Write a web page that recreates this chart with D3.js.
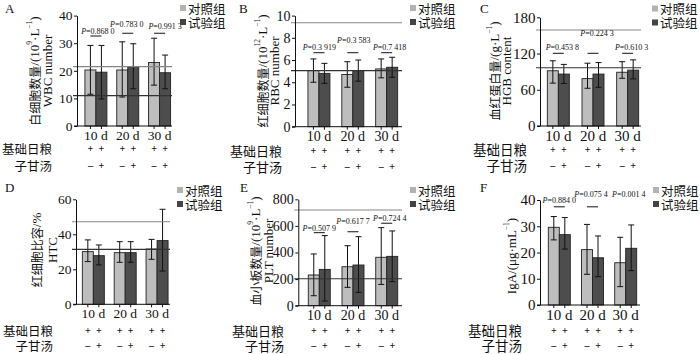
<!DOCTYPE html>
<html>
<head>
<meta charset="utf-8">
<script src="https://cdn.jsdelivr.net/npm/d3@7"></script>
<style>
  html, body { margin: 0; padding: 0; background: #fff; }
  svg text { font-family: "Liberation Serif", "Times New Roman", serif; fill: #111; }
  .cjk { font-family: "Noto Sans CJK SC", sans-serif; }
</style>
</head>
<body>
<div id="chart"></div>
<script>
// groups and series
const groups = ["10 d", "20 d", "30 d"];
const seriesNames = ["对照组", "试验组"];
const feedSigns = ["+", "+"];
const herbSigns = ["–", "+"];

// A: WBC
const wbcCtrl = [20.3, 20.3, 23.0];
const wbcCtrlLo = [11.5, 10.5, 14.8];
const wbcCtrlHi = [29.2, 30.5, 31.8];
const wbcTrt = [19.5, 21.3, 19.3];
const wbcTrtLo = [9.8, 13.5, 13.5];
const wbcTrtHi = [29.2, 29.8, 25.7];
const wbcRef = [21.5, 11];
const wbcP = ["0.868 0", "0.783 0", "0.991 3"];
const wbcTicks = [0, 10, 20, 30, 40];

// B: RBC
const rbcCtrl = [5.05, 4.7, 5.2];
const rbcCtrlLo = [4.0, 3.55, 4.4];
const rbcCtrlHi = [6.1, 5.85, 6.1];
const rbcTrt = [4.8, 5.05, 5.35];
const rbcTrtLo = [3.9, 4.1, 4.45];
const rbcTrtHi = [5.7, 6.0, 6.25];
const rbcRef = [9.35, 5.05];
const rbcP = ["0.3 919", "0.3 583", "0.7 418"];
const rbcTicks = [0, 2, 4, 6, 8, 10];

// C: HGB
const hgbCtrl = [91.5, 78.5, 89];
const hgbCtrlLo = [71, 62.5, 79];
const hgbCtrlHi = [108, 104, 106.5];
const hgbTrt = [86, 86, 92.5];
const hgbTrtLo = [70.5, 64, 78];
const hgbTrtHi = [102, 105, 109.5];
const hgbRef = [159, 96.5];
const hgbP = ["0.453 8", "0.224 3", "0.610 3"];
const hgbTicks = [0, 60, 120, 180];

// D: HTC
const htcCtrl = [30.1, 29.5, 31.6];
const htcCtrlLo = [24.4, 24, 25.7];
const htcCtrlHi = [36.8, 35.8, 37.1];
const htcTrt = [27.8, 29.5, 36.4];
const htcTrtLo = [22.5, 24, 19];
const htcTrtHi = [33.9, 35.8, 54.3];
const htcRef = [47.2, 31.4];
const htcP = [];
const htcTicks = [0, 20, 40, 60];

// E: PLT
const pltCtrl = [231, 293, 364];
const pltCtrlLo = [75, 138, 160];
const pltCtrlHi = [389, 451, 587];
const pltTrt = [273, 306, 371];
const pltTrtLo = [35, 100, 181];
const pltTrtHi = [527, 519, 562];
const pltRef = [720, 203];
const pltP = ["0.507 9", "0.617 7", "0.724 4"];
const pltTicks = [0, 200, 400, 600, 800];

// F: IgA
const igaCtrl = [29.6, 21.1, 16.1];
const igaCtrlLo = [24.8, 11.7, 7];
const igaCtrlHi = [33.7, 30.7, 25.8];
const igaTrt = [26.8, 18, 21.6];
const igaTrtLo = [21.3, 10.8, 13.1];
const igaTrtHi = [33.3, 26.3, 30.5];
const igaRef = [];
const igaP = ["0.884 0", "0.075 4", "0.001 4"];
const igaTicks = [0, 10, 20, 30, 40];

const ctrlColor = "#bdbdbd", trtColor = "#4d4d4d";
const refColors = ["#858585", "#333333"];
const barW = 11;

const panels = [
  { letter: "A", lx: 5, ly: 13, fs: 13.5,
    ctrl: wbcCtrl, ctrlLo: wbcCtrlLo, ctrlHi: wbcCtrlHi, trt: wbcTrt, trtLo: wbcTrtLo, trtHi: wbcTrtHi,
    ref: wbcRef, p: wbcP, ticks: wbcTicks, yMax: 40,
    axisX: 77, plotRight: 172, xRange: [80, 175.5], yTop: 15.6, yBottom: 126,
    sigY: [32.6, 33.6, 33.6], pGap: [2.5, 6.5, 4.5], pDx: [2, -1, 5.5],
    title: [["白细胞数量/(10", ["9"], "·L", ["-1"], ")"], ["WBC number"]], titleX: [34, 47], titleY: 71,
    rowX: 52, rowY: [148, 165], legX: 180, legY: 8 },
  { letter: "B", lx: 239, ly: 13, fs: 14,
    ctrl: rbcCtrl, ctrlLo: rbcCtrlLo, ctrlHi: rbcCtrlHi, trt: rbcTrt, trtLo: rbcTrtLo, trtHi: rbcTrtHi,
    ref: rbcRef, p: rbcP, ticks: rbcTicks, yMax: 10,
    axisX: 295, plotRight: 402, xRange: [302, 403.6], yTop: 15.6, yBottom: 126.7,
    sigY: [6.66, 6.66, 6.66], pGap: [2.5, 10, 2.5], pDx: [0.5, 1, 3],
    title: [["红细胞数量/(10", ["12"], "·L", ["-1"], ")"], ["RBC number"]], titleX: [262, 274], titleY: 71,
    rowX: 282, rowY: [150, 166], legX: 410, legY: 8 },
  { letter: "C", lx: 480, ly: 13, fs: 15,
    ctrl: hgbCtrl, ctrlLo: hgbCtrlLo, ctrlHi: hgbCtrlHi, trt: hgbTrt, trtLo: hgbTrtLo, trtHi: hgbTrtHi,
    ref: hgbRef, p: hgbP, ticks: hgbTicks, yMax: 180,
    axisX: 540, plotRight: 641, xRange: [541, 645], yTop: 17.3, yBottom: 126,
    sigY: [120.4, 120.4, 120.4], pGap: [3, 17, 3], pDx: [4, 4, 4],
    title: [["血红蛋白量/(g·L", ["-1"], ")"], ["HGB content"]], titleX: [494, 506], titleY: 71,
    rowX: 527, rowY: [149, 165], legX: 652, legY: 8.5 },
  { letter: "D", lx: 5, ly: 192, fs: 13.5,
    ctrl: htcCtrl, ctrlLo: htcCtrlLo, ctrlHi: htcCtrlHi, trt: htcTrt, trtLo: htcTrtLo, trtHi: htcTrtHi,
    ref: htcRef, p: htcP, ticks: htcTicks, yMax: 60,
    axisX: 76, plotRight: 170, xRange: [77.4, 173], yTop: 199.3, yBottom: 304.3,
    sigY: [], pGap: [], pDx: [],
    title: [["红细胞比容/%"], ["HTC"]], titleX: [36, 52], titleY: 250,
    rowX: 53, rowY: [330, 345], legX: 177, legY: 190 },
  { letter: "E", lx: 240, ly: 192, fs: 14,
    ctrl: pltCtrl, ctrlLo: pltCtrlLo, ctrlHi: pltCtrlHi, trt: pltTrt, trtLo: pltTrtLo, trtHi: pltTrtHi,
    ref: pltRef, p: pltP, ticks: pltTicks, yMax: 800,
    axisX: 298.3, plotRight: 402, xRange: [302.4, 403.6], yTop: 199.3, yBottom: 305.7,
    sigY: [549, 556, 620], pGap: [1.5, 8, 2.6], pDx: [0, 0, 3],
    title: [["血小板数量/(10", ["9"], "·L", ["-1"], ")"], ["PLT number"]], titleX: [255, 268], titleY: 251,
    rowX: 284, rowY: [330, 345], legX: 410, legY: 190 },
  { letter: "F", lx: 480, ly: 192, fs: 15,
    ctrl: igaCtrl, ctrlLo: igaCtrlLo, ctrlHi: igaCtrlHi, trt: igaTrt, trtLo: igaTrtLo, trtHi: igaTrtHi,
    ref: igaRef, p: igaP, ticks: igaTicks, yMax: 40,
    axisX: 540, plotRight: 640, xRange: [542.7, 642.3], yTop: 200, yBottom: 305,
    sigY: [37.4, 37.4, null], pGap: [3.7, 9.7, 9.7], pDx: [0, -1.5, 3],
    title: [["IgA/(μg·mL", ["-1"], ")"]], titleX: [511], titleY: 256,
    rowX: 522, rowY: [330, 345], legX: 653, legY: 190 }
];

const svg = d3.select("#chart").append("svg")
  .attr("width", 700).attr("height", 354);

const cjkRe = /[\u3400-\u9fff]+|[^\u3400-\u9fff]+/g;

function drawPanel(p) {
  const g = svg.append("g");
  const y = d3.scaleLinear().domain([0, p.yMax]).range([p.yBottom, p.yTop]);
  const x0 = d3.scaleBand().domain(groups).range(p.xRange);
  const x1 = d3.scaleBand().domain(["ctrl", "trt"]).range([0, 2 * barW]);
  const center = gr => x0(gr) + x0.bandwidth() / 2;

  const rows = [];
  groups.forEach((gr, i) => {
    rows.push({ g: gr, k: "ctrl", v: p.ctrl[i], lo: p.ctrlLo[i], hi: p.ctrlHi[i], sign: [feedSigns[0], herbSigns[0]] });
    rows.push({ g: gr, k: "trt", v: p.trt[i], lo: p.trtLo[i], hi: p.trtHi[i], sign: [feedSigns[1], herbSigns[1]] });
  });
  const bx = d => center(d.g) - barW + x1(d.k);
  const bc = d => bx(d) + barW / 2;

  // bars
  g.selectAll("rect.bar").data(rows).join("rect")
    .attr("class", "bar")
    .attr("x", bx)
    .attr("width", x1.bandwidth())
    .attr("y", d => y(d.v))
    .attr("height", d => y(0) - y(d.v))
    .attr("fill", d => d.k === "ctrl" ? ctrlColor : trtColor)
    .attr("stroke", "#222").attr("stroke-width", 0.9);

  // error bars
  const eb = g.selectAll("g.err").data(rows).join("g").attr("class", "err")
    .attr("stroke", "#111").attr("stroke-width", 1);
  eb.append("line").attr("x1", bc).attr("x2", bc).attr("y1", d => y(d.lo)).attr("y2", d => y(d.hi));
  eb.append("line").attr("x1", d => bc(d) - 3).attr("x2", d => bc(d) + 3).attr("y1", d => y(d.hi)).attr("y2", d => y(d.hi));
  eb.append("line").attr("x1", d => bc(d) - 3).attr("x2", d => bc(d) + 3).attr("y1", d => y(d.lo)).attr("y2", d => y(d.lo));

  // reference lines
  g.selectAll("line.ref").data(p.ref).join("line")
    .attr("class", "ref")
    .attr("x1", p.axisX - 4).attr("x2", p.plotRight)
    .attr("y1", d => y(d)).attr("y2", d => y(d))
    .attr("stroke", (d, i) => refColors[i]).attr("stroke-width", 1.1);

  // y axis
  const ya = g.append("g").attr("transform", `translate(${p.axisX},0)`)
    .call(d3.axisLeft(y).tickValues(p.ticks).tickSize(3).tickSizeOuter(0).tickPadding(1.5));
  ya.selectAll("text").style("font-size", p.fs + "px").attr("fill", "#111");
  ya.selectAll("path, line").attr("stroke", "#111").attr("stroke-width", 1);

  // x axis
  g.append("line").attr("x1", p.axisX - 3).attr("x2", p.plotRight)
    .attr("y1", y(0)).attr("y2", y(0)).attr("stroke", "#111");
  g.selectAll("line.xt").data(rows).join("line").attr("class", "xt")
    .attr("x1", bc).attr("x2", bc).attr("y1", y(0)).attr("y2", y(0) + 3).attr("stroke", "#111");
  g.selectAll("text.xl").data(groups).join("text").attr("class", "xl")
    .attr("x", center).attr("y", y(0) + 4 + p.fs * 0.72)
    .attr("text-anchor", "middle").style("font-size", p.fs + "px").text(d => d);

  // treatment rows
  ["基础日粮", "子甘汤"].forEach((lab, r) => {
    g.append("text").attr("class", "cjk").attr("x", p.rowX).attr("y", p.rowY[r])
      .attr("text-anchor", "end").attr("dominant-baseline", "central")
      .style("font-size", Math.min(p.fs - 1, 13.5) + "px").text(lab);
    g.selectAll("text.sg" + r).data(rows).join("text").attr("class", "sg" + r)
      .attr("x", bc).attr("y", p.rowY[r]).attr("text-anchor", "middle")
      .attr("dominant-baseline", "central").style("font-size", "10px").style("font-weight", "bold")
      .text(d => d.sign[r]);
  });

  // y title
  p.title.forEach((parts, li) => {
    const t = g.append("text")
      .attr("transform", `translate(${p.titleX[li]},${p.titleY}) rotate(-90)`)
      .attr("text-anchor", "middle").attr("dominant-baseline", "central");
    parts.forEach(part => {
      if (Array.isArray(part)) {
        t.append("tspan").attr("baseline-shift", "super").style("font-size", "7.5px")
          .text(part[0].replace("-", "−"));
      } else {
        part.match(cjkRe).forEach(seg => {
          const isCjk = /[\u3400-\u9fff]/.test(seg);
          t.append("tspan")
            .style("font-family", isCjk ? "Noto Sans CJK SC, sans-serif" : null)
            .style("font-size", isCjk ? "12px" : "13px")
            .text(seg);
        });
      }
    });
  });

  // P values
  p.p.forEach((pv, i) => {
    const c = center(groups[i]);
    const sy = p.sigY[i] != null ? y(p.sigY[i]) : null;
    if (sy != null) {
      g.append("line").attr("x1", c - 5.5).attr("x2", c + 5.5).attr("y1", sy).attr("y2", sy)
        .attr("stroke", "#111").attr("stroke-width", 1);
    }
    const ty = sy != null ? sy - p.pGap[i] : y(p.yMax) - 3;
    const t = g.append("text").attr("x", c + p.pDx[i]).attr("y", ty)
      .attr("text-anchor", "middle").style("font-size", "8px");
    t.append("tspan").style("font-style", "italic").text("P");
    t.append("tspan").text("=" + pv);
  });

  // legend
  seriesNames.forEach((s, i) => {
    g.append("rect").attr("x", p.legX).attr("y", p.legY + i * 14 - 3)
      .attr("width", 6).attr("height", 6).attr("fill", i === 0 ? "#b3b3b3" : "#444");
    g.append("text").attr("class", "cjk").attr("x", p.legX + 8).attr("y", p.legY + i * 14)
      .attr("dominant-baseline", "central").style("font-size", "12.5px").text(s);
  });

  // panel letter
  g.append("text").attr("x", p.lx).attr("y", p.ly).style("font-size", "13px").text(p.letter);
}

panels.forEach(drawPanel);
</script>
</body>
</html>
